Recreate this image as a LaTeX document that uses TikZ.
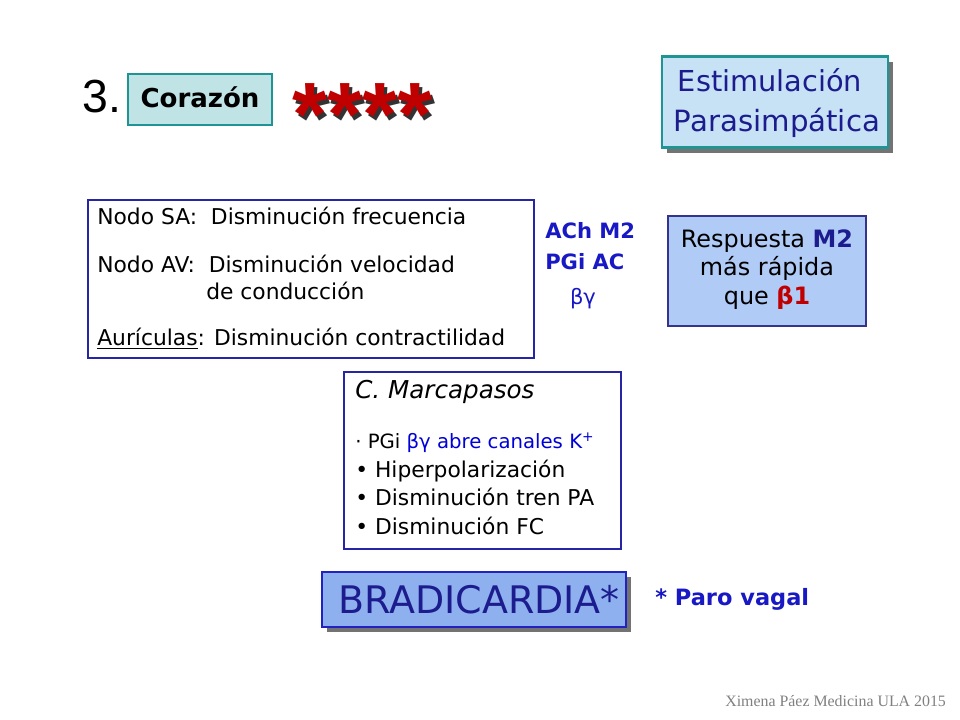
\documentclass[tikz,border=0pt]{standalone}
\usepackage{fontspec}
\setmainfont{DejaVu Sans}
\newfontfamily\arialfont{Liberation Sans}
\newfontfamily\timesfont{Liberation Serif}
\usetikzlibrary{shadows}
\definecolor{tealedge}{HTML}{1F9494}
\definecolor{tealfill}{HTML}{C0E3E6}
\definecolor{skyfill}{HTML}{C6E2F4}
\definecolor{navy}{HTML}{1C1C8E}
\definecolor{panelblue}{HTML}{2525A6}
\definecolor{inkblue}{HTML}{1818C4}
\definecolor{respfill}{HTML}{B0CBF6}
\definecolor{respedge}{HTML}{34348F}
\definecolor{bradfill}{HTML}{8EB0EE}
\definecolor{bradedge}{HTML}{2222C0}
\definecolor{starred}{HTML}{C00000}
\newcommand\fs[1]{\fontsize{#1}{#1}\selectfont}
\newcommand\shadowtext[1]{\makebox[0pt][l]{\hspace{2.2pt}\raisebox{-2.2pt}{\color{black!80}#1}}#1}

\begin{document}
\begin{tikzpicture}[x=0.025cm,y=-0.025cm,
  txt/.style={anchor=base west,inner sep=0pt},
  ctxt/.style={anchor=base,inner sep=0pt},
  panel/.style={draw=panelblue,line width=1.1pt,fill=white},
  shadowed/.style={drop shadow={shadow xshift=1.3mm,shadow yshift=-1.3mm,fill=black!55,opacity=1}}]
\useasboundingbox (0,0) rectangle (960,720);

\node (three) [txt,font=\arialfont\fs{33}] at (82,113) {3.};
\draw [draw=tealedge,line width=1.6pt,fill=tealfill] (128,74) rectangle (272,125);
\node (heart) [ctxt,font=\bfseries\fs{18.5}] at (200,108) {Corazón};
\node (stars) [txt,font=\arialfont\bfseries\fs{64},text=starred] at (292,146) {\shadowtext{****}};

\node (stimbox) [shadowed,draw=tealedge,line width=1.6pt,fill=skyfill,
  minimum width=5.65cm,minimum height=2.27cm] at (775,102) {};
\node (stim1) [ctxt,font=\fs{20.5},text=navy] at (770,92) {Estimulación};
\node (stim2) [ctxt,font=\fs{20.8},text=navy] at (777,132) {Parasimpática};

\draw [panel] (88,200) rectangle (534,358);
\node (sa) [txt,font=\fs{15.5}] at (97,225) {Nodo SA:\ \ Disminución frecuencia};
\node (av) [txt,font=\fs{15.5}] at (97,273) {Nodo AV:\ \ Disminución velocidad};
\node (av2) [txt,font=\fs{15.5}] at (206,300) {de conducción};
\node (aur) [txt,font=\fs{15.5}] at (97,346) {\underline{Aurículas}: Disminución contractilidad};

\node (ach) [txt,font=\bfseries\fs{15},text=inkblue] at (545,239) {ACh M2};
\node (pgi) [txt,font=\bfseries\fs{15},text=inkblue] at (545,270) {PGi AC};
\node (bg) [ctxt,font=\fs{15},text=inkblue] at (583,305) {βγ};

\draw [draw=respedge,line width=1.6pt,fill=respfill] (668,216) rectangle (866,326);
\node (resp1) [ctxt,font=\fs{17}] at (767,248) {Respuesta \textbf{\textcolor{navy}{M2}}};
\node (resp2) [ctxt,font=\fs{17}] at (767,276) {más rápida};
\node (resp3) [ctxt,font=\fs{17}] at (767,305) {que \textbf{\textcolor{starred}{β1}}};

\draw [panel] (344,372) rectangle (621,549);
\node (mp) [txt,font=\itshape\fs{17.5}] at (355,399) {C. Marcapasos};
\node (mp1) [txt,font=\fs{14}] at (355,449) {· PGi \textcolor{blue!85!black}{βγ abre canales K\textsuperscript{+}}};
\node (mp2) [txt,font=\fs{15.5}] at (355,478) {• Hiperpolarización};
\node (mp3) [txt,font=\fs{15.5}] at (355,506) {• Disminución tren PA};
\node (mp4) [txt,font=\fs{15.5}] at (355,535) {• Disminución FC};

\node (brad) [shadowed,draw=bradedge,line width=1.8pt,fill=bradfill,
  minimum width=7.6cm,minimum height=1.37cm] at (474,599.5) {};
\node (bradtext) [ctxt,font=\fs{27},text=navy] at (479,613) {BRADICARDIA*};
\node (vagal) [txt,font=\bfseries\fs{16},text=inkblue] at (655,605) {* Paro vagal};

\node (credit) [txt,font=\timesfont\fs{11.3},text=black!50] at (725,706) {Ximena Páez Medicina ULA 2015};
\end{tikzpicture}
\end{document}
